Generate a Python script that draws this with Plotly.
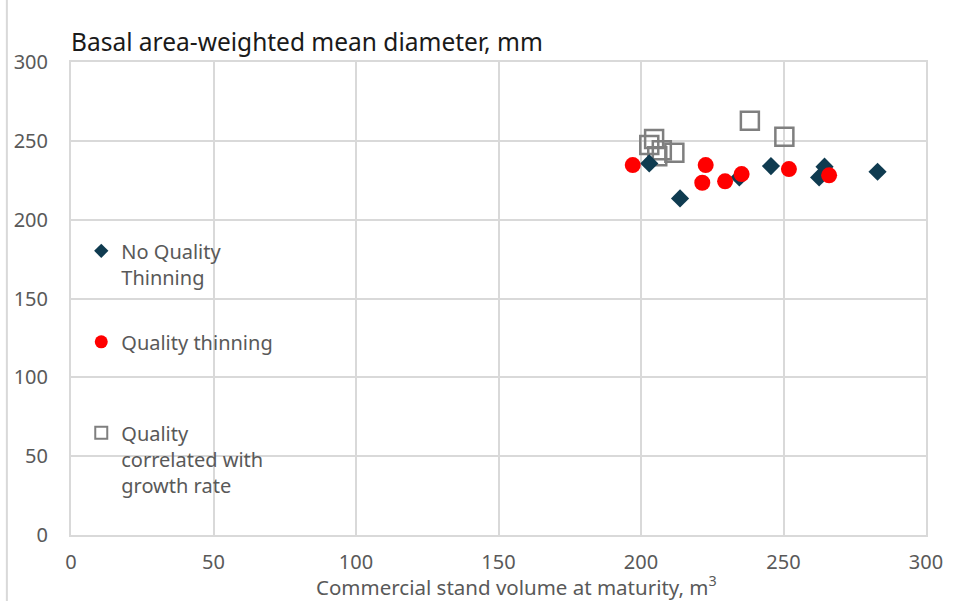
import plotly.graph_objects as go

# Data
no_q_x = [202.9, 213.7, 234.5, 245.6, 264.4, 262.5, 283.0]
no_q_y = [235.7, 213.5, 226.8, 234.0, 233.6, 226.8, 230.4]

qt_x = [197.1, 222.7, 221.5, 229.5, 235.3, 251.9, 266.0]
qt_y = [234.6, 234.6, 223.4, 224.3, 228.9, 232.1, 228.1]

qc_x = [204.6, 202.9, 207.3, 211.7, 205.7, 238.2, 250.3]
qc_y = [251.1, 247.3, 244.1, 242.4, 240.3, 262.7, 252.6]

series_names = ["No Quality<br>Thinning", "Quality thinning<br> ", "Quality<br>correlated with<br>growth rate"]

x_ticks = [0, 50, 100, 150, 200, 250, 300]
y_ticks = [0, 50, 100, 150, 200, 250, 300]

FONT = "Noto Sans"
GRID = "#D9D9D9"
TXT = "#595959"
NAVY = "#0F3B50"
RED = "#FF0000"
GREY = "#7F7F7F"

fig = go.Figure()

fig.add_trace(go.Scatter(x=qc_x, y=qc_y, mode="markers", showlegend=False,
                         marker=dict(symbol="square-open", size=18, color=GREY,
                                     line=dict(width=2.5, color=GREY))))
fig.add_trace(go.Scatter(x=no_q_x, y=no_q_y, mode="markers", showlegend=False,
                         marker=dict(symbol="diamond", size=14, color=NAVY)))
fig.add_trace(go.Scatter(x=qt_x, y=qt_y, mode="markers", showlegend=False,
                         marker=dict(symbol="circle", size=16, color=RED)))

# Legend entries
fig.add_trace(go.Scatter(x=[None], y=[None], mode="markers", name=series_names[0],
                         legendgroup="a",
                         marker=dict(symbol="diamond", size=11, color=NAVY)))
fig.add_trace(go.Scatter(x=[None], y=[None], mode="markers", name=series_names[1],
                         legendgroup="b",
                         marker=dict(symbol="circle", size=13, color=RED)))
fig.add_trace(go.Scatter(x=[None], y=[None], mode="markers", name=series_names[2],
                         legendgroup="c",
                         marker=dict(symbol="square-open", size=12, color=GREY,
                                     line=dict(width=2, color=GREY))))

axis_common = dict(showgrid=True, gridcolor=GRID, gridwidth=1.5, zeroline=False,
                   showline=True, linecolor=GRID, linewidth=2, mirror=True,
                   ticks="", tickfont=dict(family=FONT, size=20, color=TXT))

fig.update_xaxes(range=[0, 300], tickvals=x_ticks, ticklabelstandoff=8, **axis_common)
fig.update_yaxes(range=[0, 300], tickvals=y_ticks, ticklabelstandoff=17, **axis_common)

fig.add_annotation(text="Commercial stand volume at maturity, m<sup>3</sup>",
                   xref="paper", yref="paper", x=0.5216, y=-0.107,
                   xanchor="center", yanchor="middle", showarrow=False,
                   font=dict(family=FONT, size=20.5, color=TXT))

fig.add_shape(type="line", xref="paper", yref="paper",
              x0=-0.075, x1=-0.075, y0=-0.14, y1=1.14,
              line=dict(color=GRID, width=2))

fig.update_layout(
    width=956, height=601,
    margin=dict(l=71, r=30, t=62, b=66),
    paper_bgcolor="white", plot_bgcolor="white",
    title=dict(text="Basal area-weighted mean diameter, mm",
               xref="paper", x=0, xanchor="left",
               yref="container", y=1 - 42 / 601, yanchor="middle",
               font=dict(family=FONT, size=24.5, color="#1a1a1a")),
    legend=dict(x=0.012, y=0.642, xanchor="left", yanchor="top",
                bgcolor="rgba(0,0,0,0)", tracegroupgap=36, valign="top",
                font=dict(family=FONT, size=20, color=TXT)),
)

fig.write_html("out.html", config={"displayModeBar": False},
               post_script="document.body.style.margin='0';")
